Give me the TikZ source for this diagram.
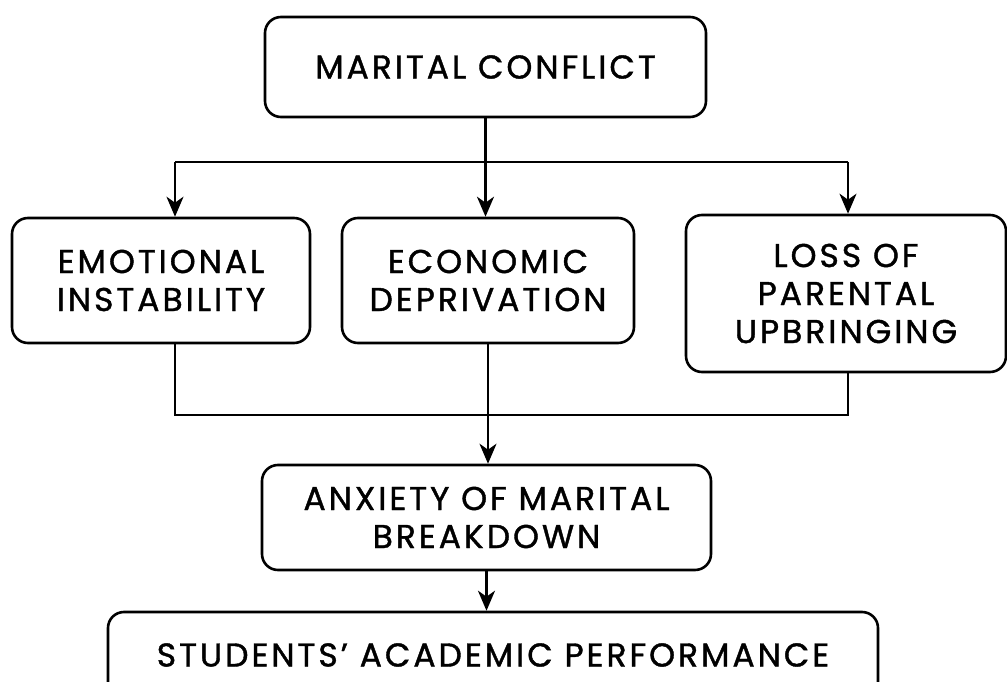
\documentclass[tikz,border=0pt]{standalone}
\usepackage{fontspec}
\setmainfont{Poppins}[FakeBold=1.2, LetterSpace=9]
\usetikzlibrary{arrows.meta}

\begin{document}
\begin{tikzpicture}[x=1pt, y=-1pt,
    box/.style={draw, line width=2.6pt, rounded corners=16pt, align=center,
        inner sep=0pt, font=\fontsize{33}{38}\selectfont},
    link/.style={line width=2.4pt},
    flow/.style={link, -{Stealth[length=20pt, width=17pt, inset=6pt]}}]
    \useasboundingbox (0,0) rectangle (1007,682);

    % Top box
    \node[box, minimum width=441pt, minimum height=100pt] (conflict) at (485.5,67) {MARITAL CONFLICT};

    % Three effects
    \node[box, minimum width=298pt, minimum height=125pt] (emotional) at (161,280.5) {EMOTIONAL\\INSTABILITY};
    \node[box, minimum width=292pt, minimum height=125pt] (economic) at (488,280.5) {ECONOMIC\\DEPRIVATION};
    \node[box, minimum width=320pt, minimum height=157pt] (loss) at (846,293.5) {LOSS OF\\PARENTAL\\UPBRINGING};

    % Outcome boxes
    \node[box, minimum width=449pt, minimum height=105pt] (anxiety) at (486.5,517.5) {ANXIETY OF MARITAL\\BREAKDOWN};
    \node[box, minimum width=770pt, minimum height=86pt] (students) at (493,655) {STUDENTS' ACADEMIC PERFORMANCE};

    % Branch points
    \coordinate (splitL) at (175,162);
    \coordinate (splitR) at (848,162);
    \coordinate (joinL) at (175,415);
    \coordinate (joinR) at (848,415);

    % Split from marital conflict
    \draw[link] (splitL) -- (splitR);
    \draw[flow] (conflict.south) -- (conflict.south |- economic.north);
    \draw[flow] (splitL) -- (splitL |- emotional.north);
    \draw[flow] (splitR) -- (splitR |- loss.north);

    % Join into anxiety
    \draw[link] (joinL |- emotional.south) -- (joinL) -- (joinR) -- (joinR |- loss.south);
    \draw[flow] (economic.south) -- (economic.south |- anxiety.north);

    % Last step
    \draw[flow] (anxiety.south) -- (anxiety.south |- students.north);
\end{tikzpicture}
\end{document}
